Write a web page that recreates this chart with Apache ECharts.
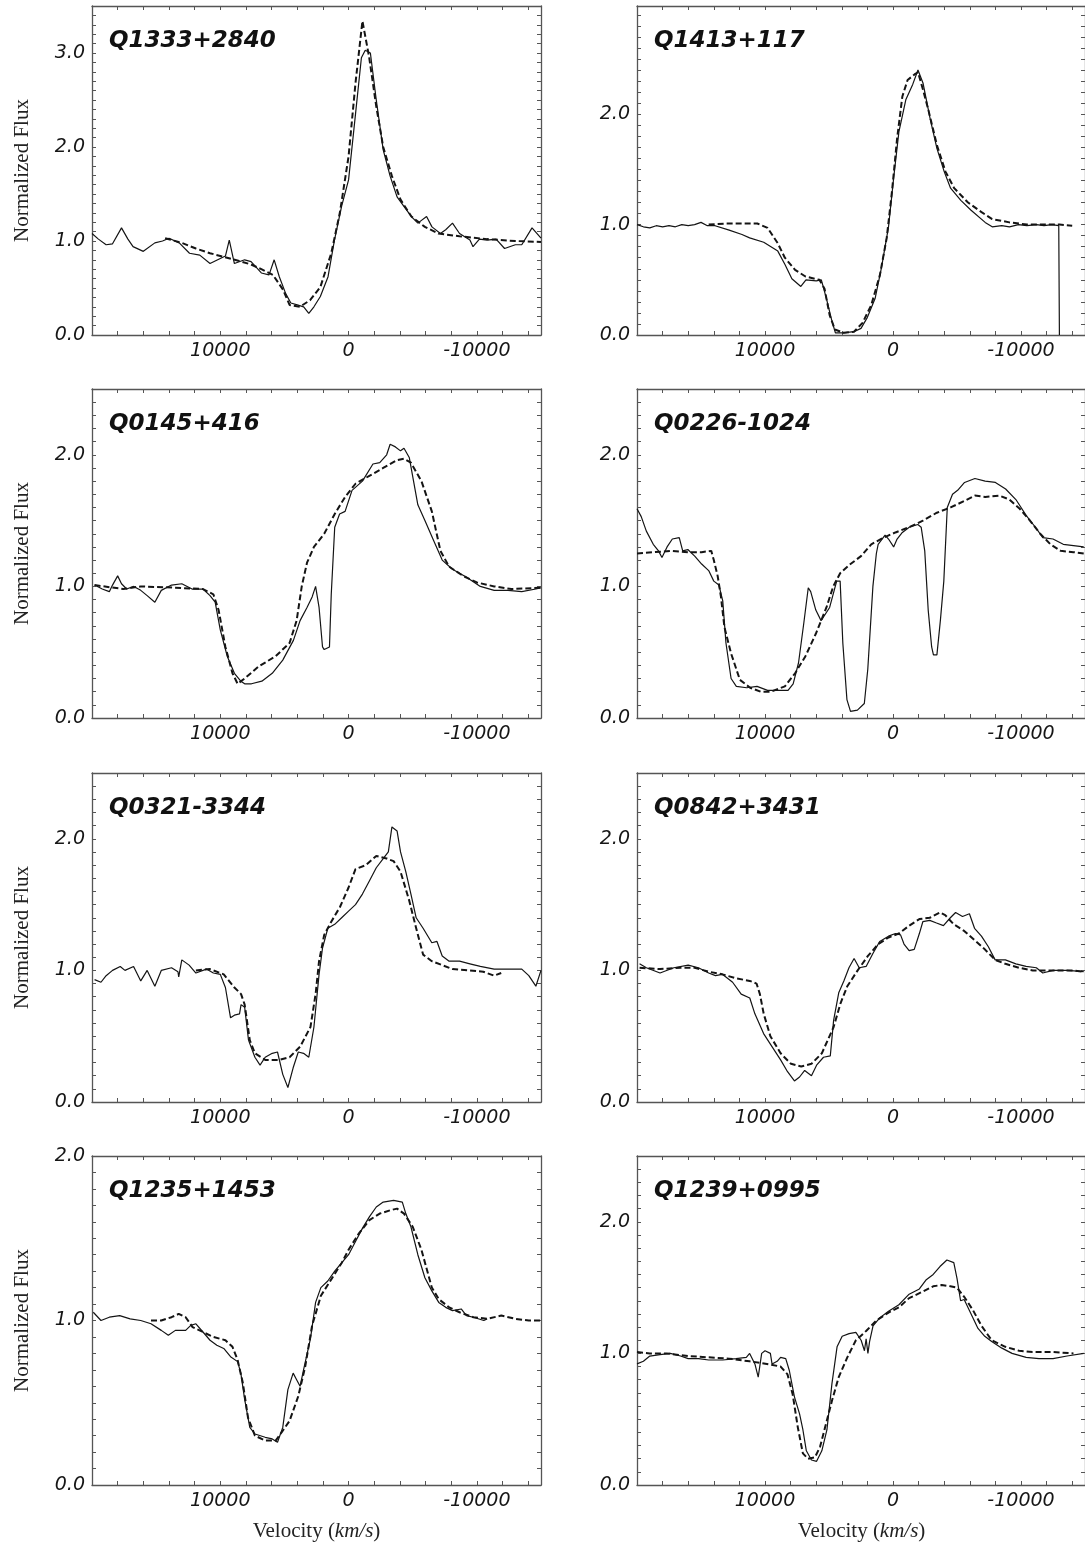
<!DOCTYPE html>
<html>
<head>
<meta charset="utf-8">
<script src="https://cdn.jsdelivr.net/npm/echarts@6/dist/echarts.min.js"></script>
<style>
html, body { margin: 0; padding: 0; background: #fff; }
#chart { width: 1085px; height: 1548px; }
</style>
</head>
<body>
<div id="chart"></div>
<script>
// quasar names, one per panel (left-right, top-bottom)
var names = ['Q1333+2840', 'Q1413+117', 'Q0145+416', 'Q0226-1024',
             'Q0321-3344', 'Q0842+3431', 'Q1235+1453', 'Q1239+0995'];
var yMaxes = [3.5, 2.98, 2.5, 2.5, 2.5, 2.5, 2.0, 2.5];
var yLabelValues = [[0, 1, 2, 3], [0, 1, 2], [0, 1, 2], [0, 1, 2], [0, 1, 2], [0, 1, 2], [0, 1, 2], [0, 1, 2]];
var xTickValues = [20000, 18000, 16000, 14000, 12000, 10000, 8000, 6000, 4000, 2000, 0,
                   -2000, -4000, -6000, -8000, -10000, -12000, -14000];
var xLabelValues = [10000, 0, -10000];

// [velocity km/s, normalized flux]; obs = solid spectrum, mod = dashed model
var obs1 = [[20000,1.08],[19500,1.02],[18900,0.96],[18400,0.97],[17700,1.14],[17200,1.02],[16800,0.94],[16000,0.89],[15100,0.98],[14500,1.00],[14000,1.03],[13200,0.98],[12400,0.87],[11600,0.85],[10800,0.76],[10200,0.80],[9600,0.84],[9300,1.01],[8900,0.76],[8100,0.80],[7600,0.78],[6800,0.66],[6200,0.64],[5800,0.80],[5400,0.62],[4900,0.44],[4500,0.34],[4000,0.32],[3500,0.30],[3100,0.23],[2700,0.30],[2200,0.41],[1600,0.62],[1100,1.01],[540,1.37],[0,1.65],[-540,2.35],[-1000,2.95],[-1300,3.03],[-1700,3.00],[-2160,2.50],[-2700,1.97],[-3240,1.69],[-3780,1.47],[-4300,1.37],[-4900,1.26],[-5400,1.19],[-6080,1.26],[-6500,1.15],[-7160,1.08],[-7570,1.12],[-8100,1.19],[-8650,1.08],[-9460,1.01],[-9700,0.94],[-10200,1.02],[-10800,1.01],[-11500,1.02],[-12160,0.92],[-13000,0.96],[-13500,0.96],[-14300,1.14],[-15000,1.03]];
var mod1 = [[14300,1.03],[13000,0.98],[11900,0.92],[10800,0.87],[9700,0.83],[8600,0.79],[7600,0.75],[6800,0.70],[5900,0.64],[5100,0.48],[4600,0.32],[3800,0.30],[3000,0.37],[2200,0.51],[1350,0.87],[680,1.30],[0,1.90],[-540,2.68],[-1080,3.34],[-1600,2.96],[-2160,2.43],[-2700,2.00],[-3380,1.69],[-4050,1.44],[-4900,1.26],[-5950,1.15],[-7000,1.08],[-8650,1.05],[-10800,1.02],[-13000,1.00],[-15000,0.99]];

var obs2 = [[20000,1.00],[19500,0.98],[19000,0.97],[18500,0.99],[18000,0.98],[17500,0.99],[17000,0.98],[16500,1.00],[16000,0.99],[15500,1.00],[15000,1.02],[14500,0.99],[13900,0.99],[12800,0.95],[11800,0.91],[11200,0.88],[10100,0.84],[9000,0.76],[8450,0.64],[7900,0.51],[7200,0.44],[6800,0.50],[6000,0.49],[5600,0.50],[5200,0.33],[4800,0.14],[4500,0.02],[3900,0.02],[3050,0.03],[2500,0.06],[2000,0.16],[1400,0.33],[900,0.61],[350,0.98],[-50,1.42],[-460,1.84],[-1000,2.13],[-1540,2.27],[-1950,2.40],[-2350,2.28],[-2900,1.96],[-3430,1.69],[-4000,1.48],[-4500,1.33],[-5300,1.22],[-6100,1.13],[-7200,1.02],[-7750,0.98],[-8500,0.99],[-9100,0.98],[-9800,1.00],[-10460,0.99],[-11200,1.00],[-11800,0.99],[-12400,1.00],[-12950,0.99],[-13000,0.0]];
var mod2 = [[14400,1.00],[13000,1.01],[12240,1.01],[10600,1.01],[9800,0.97],[9000,0.83],[8450,0.70],[7650,0.59],[6840,0.53],[5750,0.50],[5350,0.42],[4950,0.18],[4540,0.05],[3860,0.02],[3050,0.03],[2380,0.11],[1700,0.27],[1030,0.54],[490,0.88],[80,1.30],[-320,1.78],[-730,2.16],[-1140,2.31],[-1680,2.36],[-1950,2.38],[-2350,2.22],[-2760,2.04],[-3430,1.72],[-4100,1.48],[-4780,1.33],[-5860,1.20],[-6950,1.11],[-7750,1.05],[-9100,1.02],[-10460,1.00],[-11800,1.00],[-13000,1.00],[-14000,0.99]];

var obs3 = [[19800,1.01],[19200,0.98],[18650,0.96],[18400,1.01],[18000,1.08],[17700,1.02],[17300,0.98],[16750,1.00],[16200,0.97],[15700,0.93],[15100,0.88],[14600,0.97],[13800,1.01],[13000,1.02],[12200,0.98],[11350,0.98],[10800,0.93],[10400,0.88],[10000,0.67],[9460,0.47],[8900,0.34],[8400,0.28],[8100,0.26],[7570,0.26],[6760,0.28],[5950,0.34],[5130,0.44],[4300,0.59],[3780,0.74],[3240,0.84],[2840,0.92],[2570,1.00],[2300,0.84],[2030,0.54],[1900,0.52],[1490,0.54],[1350,0.94],[1080,1.45],[700,1.55],[270,1.57],[-270,1.73],[-1080,1.80],[-1900,1.93],[-2430,1.94],[-2970,2.00],[-3240,2.08],[-3650,2.06],[-4050,2.03],[-4320,2.05],[-4730,1.98],[-5400,1.62],[-5950,1.50],[-6620,1.35],[-7300,1.20],[-8100,1.13],[-9200,1.07],[-10270,1.00],[-11350,0.97],[-12430,0.97],[-13500,0.96],[-14600,0.98],[-15000,0.99]];
var mod3 = [[19800,1.01],[17570,0.98],[16200,1.00],[13500,0.99],[11350,0.98],[10540,0.94],[10130,0.82],[9600,0.54],[9050,0.34],[8650,0.26],[8100,0.30],[7030,0.39],[5680,0.47],[4600,0.57],[4050,0.74],[3650,1.00],[3240,1.18],[2700,1.30],[1900,1.40],[1080,1.55],[270,1.68],[-540,1.78],[-1620,1.84],[-2700,1.90],[-3780,1.96],[-4320,1.97],[-4860,1.94],[-5680,1.80],[-6490,1.57],[-7160,1.27],[-7840,1.15],[-8920,1.08],[-10000,1.03],[-11350,1.00],[-12700,0.98],[-15000,0.99]];

var obs4 = [[20000,1.59],[19670,1.53],[19270,1.42],[18730,1.32],[18320,1.27],[18050,1.22],[17650,1.30],[17240,1.36],[16700,1.37],[16430,1.27],[16030,1.28],[15490,1.23],[14950,1.17],[14400,1.12],[14000,1.04],[13600,1.01],[13300,0.89],[13050,0.57],[12650,0.30],[12240,0.24],[11430,0.23],[10620,0.24],[9800,0.21],[9000,0.21],[8200,0.21],[7800,0.26],[7380,0.42],[6970,0.72],[6620,0.99],[6430,0.96],[6030,0.82],[5620,0.74],[4950,0.84],[4400,1.04],[4130,1.04],[3920,0.57],[3600,0.14],[3320,0.05],[2780,0.06],[2240,0.11],[1970,0.37],[1570,1.00],[1300,1.25],[1160,1.32],[620,1.39],[350,1.36],[-50,1.30],[-320,1.36],[-730,1.41],[-1270,1.45],[-1940,1.47],[-2200,1.45],[-2480,1.27],[-2750,0.82],[-3020,0.54],[-3160,0.48],[-3430,0.48],[-3700,0.74],[-3970,1.04],[-4240,1.60],[-4650,1.70],[-5050,1.73],[-5590,1.79],[-6400,1.82],[-7200,1.80],[-8000,1.79],[-8800,1.74],[-9600,1.66],[-10400,1.54],[-11200,1.44],[-11700,1.37],[-12500,1.36],[-13300,1.32],[-14100,1.31],[-14900,1.30]];
var mod4 = [[20000,1.25],[18700,1.26],[17350,1.27],[16000,1.26],[14950,1.26],[14200,1.27],[14000,1.20],[13700,1.08],[13440,0.92],[13170,0.69],[12650,0.49],[11960,0.29],[11160,0.23],[10350,0.20],[9540,0.20],[8450,0.24],[7650,0.34],[6840,0.47],[6030,0.64],[5200,0.84],[4670,1.00],[4130,1.10],[3320,1.17],[2500,1.23],[1700,1.32],[750,1.37],[-190,1.41],[-1270,1.45],[-2340,1.50],[-3430,1.56],[-4500,1.60],[-5590,1.65],[-6400,1.69],[-7200,1.68],[-8300,1.69],[-9100,1.66],[-9900,1.59],[-10700,1.50],[-11500,1.40],[-12300,1.32],[-13100,1.27],[-14100,1.26],[-14900,1.25]];

var obs5 = [[19800,0.93],[19300,0.91],[18900,0.96],[18400,1.00],[17800,1.03],[17430,1.00],[16760,1.03],[16200,0.92],[15700,1.00],[15100,0.88],[14600,1.00],[13800,1.02],[13300,0.99],[13240,0.95],[13000,1.08],[12430,1.04],[11900,0.98],[11080,1.01],[10540,0.98],[10000,0.97],[9600,0.87],[9200,0.64],[8900,0.66],[8500,0.67],[8380,0.74],[8100,0.72],[7800,0.47],[7300,0.34],[6900,0.28],[6500,0.34],[5950,0.37],[5540,0.38],[5130,0.21],[4730,0.11],[4320,0.26],[3920,0.38],[3510,0.37],[3100,0.34],[2700,0.57],[2300,0.97],[2030,1.17],[1620,1.32],[1080,1.35],[540,1.40],[0,1.45],[-540,1.50],[-1080,1.58],[-1620,1.68],[-2160,1.78],[-2700,1.85],[-3100,1.90],[-3380,2.09],[-3780,2.06],[-4050,1.90],[-4460,1.75],[-4860,1.58],[-5270,1.40],[-5810,1.32],[-6490,1.21],[-6890,1.22],[-7300,1.11],[-7840,1.07],[-8650,1.07],[-9460,1.05],[-10270,1.03],[-11350,1.01],[-12430,1.01],[-13500,1.01],[-14050,0.96],[-14600,0.88],[-15000,1.00]];
var mod5 = [[11900,1.00],[10800,1.01],[9730,0.97],[8900,0.87],[8380,0.82],[8100,0.74],[7700,0.47],[7300,0.37],[6500,0.32],[5400,0.32],[4600,0.34],[3780,0.42],[2970,0.57],[2570,0.82],[2300,1.07],[1900,1.27],[1350,1.37],[680,1.48],[0,1.63],[-540,1.77],[-1350,1.80],[-2160,1.87],[-2970,1.85],[-3510,1.83],[-4050,1.75],[-4730,1.53],[-5270,1.32],[-5810,1.12],[-6490,1.07],[-7300,1.04],[-8100,1.01],[-9460,1.00],[-10500,0.99],[-11350,0.96],[-11900,0.98]];

var obs6 = [[19800,1.05],[19270,1.02],[18200,0.98],[17120,1.02],[16000,1.04],[15200,1.02],[14400,0.98],[13870,0.96],[13330,0.97],[12530,0.91],[11860,0.82],[11190,0.79],[10790,0.67],[10110,0.52],[9580,0.44],[8780,0.32],[8240,0.23],[7700,0.16],[7300,0.19],[6900,0.24],[6370,0.20],[5970,0.28],[5430,0.34],[4900,0.35],[4640,0.62],[4240,0.83],[3840,0.92],[3440,1.02],[3040,1.09],[2640,1.02],[2100,1.03],[1560,1.13],[1040,1.22],[350,1.26],[-190,1.28],[-590,1.27],[-860,1.20],[-1260,1.15],[-1660,1.16],[-2060,1.28],[-2330,1.37],[-2870,1.38],[-3400,1.36],[-3940,1.34],[-4480,1.40],[-4890,1.44],[-5430,1.41],[-5970,1.43],[-6370,1.32],[-6910,1.26],[-7450,1.18],[-7980,1.08],[-8780,1.08],[-9600,1.05],[-10400,1.03],[-11200,1.02],[-11700,0.98],[-12500,1.00],[-13600,1.00],[-14900,0.99]];
var mod6 = [[19800,1.02],[18200,1.01],[16600,1.02],[15500,1.02],[14400,0.99],[13330,0.97],[12260,0.94],[11190,0.92],[10660,0.90],[10400,0.82],[10100,0.67],[9580,0.50],[8780,0.37],[7970,0.29],[7170,0.27],[6370,0.29],[5560,0.37],[4640,0.57],[4100,0.75],[3570,0.88],[2760,1.00],[1960,1.11],[1150,1.20],[350,1.25],[-460,1.28],[-1260,1.34],[-2060,1.39],[-2870,1.40],[-3670,1.44],[-4080,1.42],[-4750,1.35],[-5560,1.30],[-6370,1.23],[-7170,1.16],[-7980,1.08],[-8780,1.05],[-9850,1.02],[-10920,1.00],[-12500,1.00],[-14100,1.00],[-14900,0.99]];

var obs7 = [[19900,1.05],[19300,1.00],[18650,1.02],[17840,1.03],[17030,1.01],[16200,1.00],[15400,0.98],[14600,0.94],[14050,0.91],[13500,0.94],[12700,0.94],[12300,0.97],[11900,0.98],[11350,0.93],[10800,0.88],[10270,0.85],[9730,0.83],[9200,0.78],[8650,0.75],[8400,0.68],[8100,0.52],[7700,0.35],[7300,0.31],[6500,0.29],[5950,0.28],[5540,0.26],[5130,0.35],[4730,0.58],[4320,0.68],[4050,0.64],[3780,0.60],[3510,0.70],[2970,0.89],[2570,1.11],[2160,1.20],[1620,1.24],[1080,1.30],[540,1.35],[0,1.40],[-540,1.48],[-1080,1.56],[-1620,1.63],[-2160,1.69],[-2700,1.72],[-3510,1.73],[-4190,1.72],[-4460,1.65],[-4860,1.57],[-5400,1.40],[-5950,1.26],[-6490,1.18],[-7030,1.11],[-7570,1.08],[-8100,1.06],[-8780,1.07],[-9190,1.03],[-9730,1.02],[-10540,1.00],[-10800,1.01]];
var mod7 = [[15400,1.00],[14600,1.00],[13800,1.02],[13240,1.04],[12700,1.02],[12160,0.96],[11350,0.93],[10540,0.90],[9600,0.88],[9050,0.84],[8650,0.76],[8240,0.62],[7840,0.41],[7300,0.30],[6500,0.27],[5680,0.27],[5130,0.33],[4600,0.39],[3920,0.54],[3380,0.72],[2840,0.97],[2160,1.15],[1350,1.25],[540,1.35],[0,1.43],[-810,1.53],[-1620,1.61],[-2430,1.65],[-3240,1.67],[-3780,1.68],[-4320,1.65],[-5000,1.57],[-5680,1.43],[-6490,1.20],[-7030,1.13],[-7840,1.08],[-8650,1.05],[-9730,1.02],[-10800,1.01],[-11900,1.03],[-13000,1.01],[-14050,1.00],[-15000,1.00]];

var obs8 = [[20000,0.92],[19500,0.94],[19000,0.98],[18200,0.99],[17400,1.00],[16600,0.98],[16000,0.96],[15200,0.96],[14400,0.95],[13300,0.95],[12260,0.96],[11460,0.97],[11200,1.00],[10790,0.92],[10530,0.82],[10260,1.00],[10000,1.02],[9580,1.00],[9450,0.92],[9050,0.94],[8780,0.97],[8380,0.96],[8100,0.87],[7700,0.67],[7300,0.54],[7040,0.42],[6770,0.26],[6370,0.19],[5970,0.18],[5560,0.26],[5160,0.42],[4770,0.77],[4370,1.05],[3970,1.13],[3430,1.15],[2900,1.16],[2490,1.10],[2230,1.02],[2100,1.11],[1960,1.00],[1830,1.09],[1560,1.21],[1040,1.27],[350,1.32],[-460,1.37],[-1260,1.45],[-2060,1.49],[-2600,1.56],[-3140,1.60],[-3670,1.66],[-4210,1.71],[-4750,1.69],[-5000,1.57],[-5280,1.40],[-5560,1.41],[-6100,1.30],[-6640,1.19],[-7170,1.13],[-7710,1.09],[-8510,1.04],[-9300,1.00],[-10400,0.97],[-11400,0.96],[-12500,0.96],[-13600,0.98],[-14900,1.00]];
var mod8 = [[20000,1.01],[19000,1.00],[17700,1.00],[16000,0.98],[14400,0.97],[12800,0.96],[11200,0.94],[9850,0.92],[8780,0.90],[8240,0.84],[7840,0.69],[7440,0.44],[7040,0.24],[6640,0.20],[6100,0.21],[5700,0.29],[5300,0.44],[4770,0.64],[4240,0.82],[3570,0.97],[2900,1.10],[2100,1.17],[1300,1.25],[350,1.31],[-460,1.35],[-1260,1.42],[-2330,1.47],[-3140,1.51],[-3800,1.52],[-4480,1.51],[-5000,1.50],[-5560,1.43],[-6240,1.33],[-6910,1.21],[-7710,1.10],[-8780,1.05],[-9850,1.02],[-10900,1.01],[-12500,1.01],[-14100,1.00]];

var observed = [obs1, obs2, obs3, obs4, obs5, obs6, obs7, obs8];
var models = [mod1, mod2, mod3, mod4, mod5, mod6, mod7, mod8];

var chart = echarts.init(document.getElementById('chart'));

var colLeft = [92, 637];
var rowTop = [6, 389, 773, 1156];
var boxW = 449, boxH = 329;
var ink = '#141414';
var spine = '#555';
var tickFont = { fontFamily: 'DejaVu Sans', fontStyle: 'italic', fontSize: 19, color: '#161616' };

var grids = [], xAxes = [], yAxes = [], series = [], titles = [], graphics = [];

for (var i = 0; i < 8; i++) {
    var r = Math.floor(i / 2), c = i % 2;
    grids.push({ left: colLeft[c], top: rowTop[r], width: boxW + c, height: boxH });

    // bottom axis with labels, top axis for the ticks only
    xAxes.push({
        type: 'value', gridIndex: i, inverse: true, min: -15000, max: 20000, position: 'bottom',
        axisLine: { show: true, onZero: false, lineStyle: { color: spine, width: 1.3 } },
        axisTick: { show: true, inside: true, length: 4, customValues: xTickValues, lineStyle: { color: spine } },
        axisLabel: Object.assign({ show: true, margin: 7, customValues: xLabelValues,
            formatter: function (v) { return String(v); } }, tickFont),
        splitLine: { show: false }
    });
    xAxes.push({
        type: 'value', gridIndex: i, inverse: true, min: -15000, max: 20000, position: 'top',
        axisLine: { show: true, onZero: false, lineStyle: { color: spine, width: 1.3 } },
        axisTick: { show: true, inside: true, length: 4, customValues: xTickValues, lineStyle: { color: spine } },
        axisLabel: { show: false },
        splitLine: { show: false }
    });

    yAxes.push({
        type: 'value', gridIndex: i, min: 0, max: yMaxes[i], interval: 0.1, position: 'left',
        axisLine: { show: true, onZero: false, lineStyle: { color: spine, width: 1.3 } },
        axisTick: { show: true, inside: true, length: 4, lineStyle: { color: spine } },
        axisLabel: Object.assign({ show: true, margin: 7, customValues: yLabelValues[i],
            formatter: function (v) { return v.toFixed(1); } }, tickFont),
        splitLine: { show: false }
    });
    yAxes.push({
        type: 'value', gridIndex: i, min: 0, max: yMaxes[i], interval: 0.1, position: 'right',
        axisLine: { show: true, onZero: false, lineStyle: { color: spine, width: 1.3 } },
        axisTick: { show: true, inside: true, length: 4, lineStyle: { color: spine } },
        axisLabel: { show: false },
        splitLine: { show: false }
    });

    series.push({
        type: 'line', xAxisIndex: 2 * i, yAxisIndex: 2 * i, data: observed[i],
        symbol: 'none', silent: true, lineStyle: { color: ink, width: 1.2 }
    });
    series.push({
        type: 'line', xAxisIndex: 2 * i, yAxisIndex: 2 * i, data: models[i],
        symbol: 'none', silent: true, lineStyle: { color: ink, width: 2, type: [6, 3] }
    });

    titles.push({
        text: names[i], left: colLeft[c] + 17, top: rowTop[r] + 24, padding: 0,
        textStyle: { fontFamily: 'DejaVu Sans', fontStyle: 'italic', fontWeight: 'bold', fontSize: 23, color: '#111' }
    });

    if (c === 0) {
        graphics.push({
            type: 'text', x: 22, y: rowTop[r] + boxH / 2, rotation: Math.PI / 2,
            style: { text: 'Normalized Flux', fontFamily: 'Liberation Serif', fontSize: 21, fill: '#222',
                     align: 'center', verticalAlign: 'middle' }
        });
    }
    if (r === 3) {
        graphics.push({
            type: 'text', x: colLeft[c] + boxW / 2, y: 1531,
            style: { text: 'Velocity ({i|km/s})', fontFamily: 'Liberation Serif', fontSize: 21, fill: '#222',
                     align: 'center', verticalAlign: 'middle',
                     rich: { i: { fontFamily: 'Liberation Serif', fontStyle: 'italic', fontSize: 21, fill: '#222' } } }
        });
    }
}

chart.setOption({
    animation: false,
    backgroundColor: '#fff',
    title: titles,
    grid: grids,
    xAxis: xAxes,
    yAxis: yAxes,
    series: series,
    graphic: graphics
});
</script>
</body>
</html>
